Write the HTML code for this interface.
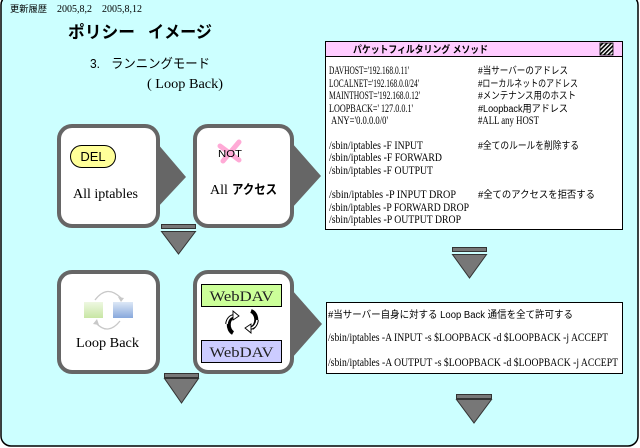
<!DOCTYPE html>
<html><head><meta charset="utf-8">
<style>
html,body{margin:0;padding:0;background:#fff;}
svg{display:block;}
.s{font-family:"Liberation Serif","Noto Serif CJK SC",serif;}
.j{font-family:"Liberation Sans","Noto Sans CJK JP",sans-serif;}
</style></head>
<body>
<svg width="640" height="448" viewBox="0 0 640 448" xmlns="http://www.w3.org/2000/svg">
<defs>
<pattern id="hatch" width="3" height="3" patternUnits="userSpaceOnUse" patternTransform="rotate(45)">
<rect width="3" height="3" fill="#fff"/><rect width="1.6" height="3" fill="#000"/>
</pattern>
<linearGradient id="gg" x1="0" y1="0" x2="0" y2="1"><stop offset="0" stop-color="#eef8e2"/><stop offset="1" stop-color="#c8e6a4"/></linearGradient>
<linearGradient id="bg" x1="0" y1="0" x2="0" y2="1"><stop offset="0" stop-color="#dde8f6"/><stop offset="1" stop-color="#88a8dc"/></linearGradient>
</defs>

<!-- outer frame -->
<rect x="1" y="-5" width="637" height="451" rx="10" fill="#ccffff" stroke="#000" stroke-width="1.5"/>

<!-- header -->
<text class="j" x="10" y="12" font-size="9" textLength="37" lengthAdjust="spacingAndGlyphs">更新履歴</text>
<text class="s" x="57" y="12" font-size="10">2005,8,2</text>
<text class="s" x="102" y="12" font-size="10">2005,8,12</text>

<text class="j" x="68" y="38" font-size="17" font-weight="bold" textLength="67" lengthAdjust="spacingAndGlyphs">ポリシー</text>
<text class="j" x="148" y="38" font-size="17" font-weight="bold" textLength="64" lengthAdjust="spacingAndGlyphs">イメージ</text>
<text class="j" x="90" y="68" font-size="13" textLength="10" lengthAdjust="spacingAndGlyphs">3.</text>
<text class="j" x="111" y="68" font-size="13" textLength="99" lengthAdjust="spacingAndGlyphs">ランニングモード</text>
<text class="s" x="147" y="88" font-size="14" textLength="76" lengthAdjust="spacingAndGlyphs">( Loop Back)</text>

<!-- packet filtering box -->
<rect x="325.5" y="41.5" width="297" height="188" fill="#fff" stroke="#000" stroke-width="1"/>
<rect x="325.5" y="41.5" width="297" height="15" fill="#ffccff" stroke="#000" stroke-width="1"/>
<rect x="600" y="43" width="13" height="12" fill="url(#hatch)" stroke="#000" stroke-width="0.8"/>
<text class="j" x="353" y="53" font-size="10" font-weight="bold" textLength="135" lengthAdjust="spacingAndGlyphs">パケットフィルタリング メソッド</text>

<g class="s" font-size="11.5">
<text x="329" y="74" textLength="80" lengthAdjust="spacingAndGlyphs">DAVHOST='192.168.0.11'</text>
<text x="329" y="87" textLength="90" lengthAdjust="spacingAndGlyphs">LOCALNET='192.168.0.0/24'</text>
<text x="329" y="99" textLength="91" lengthAdjust="spacingAndGlyphs">MAINTHOST='192.168.0.12'</text>
<text x="329" y="112" textLength="84" lengthAdjust="spacingAndGlyphs">LOOPBACK=' 127.0.0.1'</text>
<text x="331" y="124" textLength="57" lengthAdjust="spacingAndGlyphs">ANY='0.0.0.0/0'</text>
<text x="329" y="149" textLength="94" lengthAdjust="spacingAndGlyphs">/sbin/iptables -F INPUT</text>
<text x="329" y="161" textLength="113" lengthAdjust="spacingAndGlyphs">/sbin/iptables -F FORWARD</text>
<text x="329" y="174" textLength="104" lengthAdjust="spacingAndGlyphs">/sbin/iptables -F OUTPUT</text>
<text x="329" y="198" textLength="127" lengthAdjust="spacingAndGlyphs">/sbin/iptables -P INPUT DROP</text>
<text x="329" y="211" textLength="140" lengthAdjust="spacingAndGlyphs">/sbin/iptables -P FORWARD DROP</text>
<text x="329" y="223" textLength="132" lengthAdjust="spacingAndGlyphs">/sbin/iptables -P OUTPUT DROP</text>
</g>
<g class="j" font-size="10">
<text x="478" y="74" textLength="90" lengthAdjust="spacingAndGlyphs">#当サーバーのアドレス</text>
<text x="478" y="87" textLength="100" lengthAdjust="spacingAndGlyphs">#ローカルネットのアドレス</text>
<text x="478" y="99" textLength="98" lengthAdjust="spacingAndGlyphs">#メンテナンス用のホスト</text>
<text x="478" y="112" textLength="90" lengthAdjust="spacingAndGlyphs">#Loopback用アドレス</text>
<text x="478" y="124" textLength="61" lengthAdjust="spacingAndGlyphs" class="s" font-size="11.5">#ALL any HOST</text>
<text x="478" y="149" textLength="101" lengthAdjust="spacingAndGlyphs">#全てのルールを削除する</text>
<text x="478" y="198" textLength="117" lengthAdjust="spacingAndGlyphs">#全てのアクセスを拒否する</text>
</g>

<!-- loopback box -->
<rect x="326.5" y="302.5" width="296" height="71" fill="#fff" stroke="#000" stroke-width="1"/>
<text class="j" x="328" y="318" font-size="10" textLength="245" lengthAdjust="spacingAndGlyphs">#当サーバー自身に対する Loop Back 通信を全て許可する</text>
<text class="s" x="328" y="341" font-size="11.5" textLength="280" lengthAdjust="spacingAndGlyphs">/sbin/iptables -A INPUT -s $LOOPBACK -d $LOOPBACK -j ACCEPT</text>
<text class="s" x="328" y="366" font-size="11.5" textLength="290" lengthAdjust="spacingAndGlyphs">/sbin/iptables -A OUTPUT -s $LOOPBACK -d $LOOPBACK -j ACCEPT</text>

<!-- right arrows -->
<polygon points="157,143 186,177 157,208" fill="#666"/>
<polygon points="292,143 321,176 292,208" fill="#666"/>
<polygon points="292,290 322,324 292,358" fill="#666"/>

<!-- boxes -->
<rect x="59" y="126" width="99" height="100" rx="13" fill="#fff" stroke="#666" stroke-width="4"/>
<rect x="195" y="126" width="97" height="100" rx="13" fill="#fff" stroke="#666" stroke-width="4"/>
<rect x="59" y="272" width="99" height="100" rx="13" fill="#fff" stroke="#666" stroke-width="4"/>
<rect x="195" y="272" width="97" height="100" rx="13" fill="#fff" stroke="#666" stroke-width="4"/>

<!-- box1 content -->
<rect x="70.5" y="145.5" width="45" height="22" rx="11" fill="#ffff99" stroke="#000" stroke-width="1"/>
<text class="j" x="93" y="161" font-size="13" text-anchor="middle">DEL</text>
<text class="s" x="73" y="198" font-size="14" textLength="65" lengthAdjust="spacingAndGlyphs">All iptables</text>

<!-- box2 content -->
<path d="M220 146 L239 160 M239 142 L223 161" stroke="#ffaad6" stroke-width="5" stroke-linecap="round"/>
<text class="j" x="218" y="157" font-size="10" textLength="24" lengthAdjust="spacingAndGlyphs">NOT</text>
<text class="s" x="210" y="194" font-size="14">All</text>
<text class="j" x="232" y="194" font-size="13" font-weight="bold" textLength="45" lengthAdjust="spacingAndGlyphs">アクセス</text>

<!-- box3 content -->
<rect x="84" y="302" width="19" height="16" fill="url(#gg)"/>
<rect x="113" y="302" width="20" height="16" fill="url(#bg)"/>
<path d="M95 300 Q107 284 121 298" fill="none" stroke="#c8c8c8" stroke-width="1.3"/>
<polygon points="118,297 124,298 121,302" fill="#c8c8c8"/>
<path d="M120 321 Q108 336 96 323" fill="none" stroke="#c8c8c8" stroke-width="1.3"/>
<polygon points="93,324 97,319 99,325" fill="#c8c8c8"/>
<text class="s" x="76" y="347" font-size="14" textLength="63" lengthAdjust="spacingAndGlyphs">Loop Back</text>

<!-- box4 content -->
<rect x="201.5" y="284.5" width="80" height="22" fill="#ccff99" stroke="#000" stroke-width="1"/>
<text class="s" x="241.5" y="301" font-size="15" text-anchor="middle" fill="#222" textLength="64" lengthAdjust="spacingAndGlyphs">WebDAV</text>
<rect x="201.5" y="340.5" width="80" height="22" fill="#ccccff" stroke="#000" stroke-width="1"/>
<text class="s" x="241.5" y="357" font-size="15" text-anchor="middle" fill="#222" textLength="64" lengthAdjust="spacingAndGlyphs">WebDAV</text>
<!-- cycle arrows -->
<path d="M234 316 A7 9 0 0 0 233 333" fill="none" stroke="#000" stroke-width="4"/>
<path d="M234 316 A7 9 0 0 0 227 324" fill="none" stroke="#000" stroke-width="3.6"/>
<path d="M234 316 A7 9 0 0 0 227 324" fill="none" stroke="#fff" stroke-width="1.6"/>
<polygon points="233,311 239,316 233,320" fill="#fff" stroke="#000" stroke-width="0.9"/>
<path d="M251 311 A7 9 0 0 1 252 328" fill="none" stroke="#000" stroke-width="4"/>
<path d="M257 320 A7 9 0 0 1 251 328" fill="none" stroke="#000" stroke-width="3.6"/>
<path d="M257 320 A7 9 0 0 1 251 328" fill="none" stroke="#fff" stroke-width="1.6"/>
<polygon points="251,324 245,328 251,333" fill="#fff" stroke="#000" stroke-width="0.9"/>

<!-- down arrows -->
<g fill="#777" stroke="#333" stroke-width="1">
<rect x="161.5" y="224.5" width="34" height="4"/>
<polygon points="161.5,231.5 195.5,231.5 178.5,254"/>
<rect x="452.5" y="247.5" width="34" height="4"/>
<polygon points="452.5,254.5 486.5,254.5 469.5,278"/>
<rect x="164.5" y="373.5" width="34" height="4"/>
<polygon points="164.5,378.5 198.5,378.5 181.5,403"/>
<rect x="456.5" y="394.5" width="35" height="4"/>
<polygon points="456.5,399.5 491.5,399.5 474,423"/>
</g>
</svg>
</body></html>
